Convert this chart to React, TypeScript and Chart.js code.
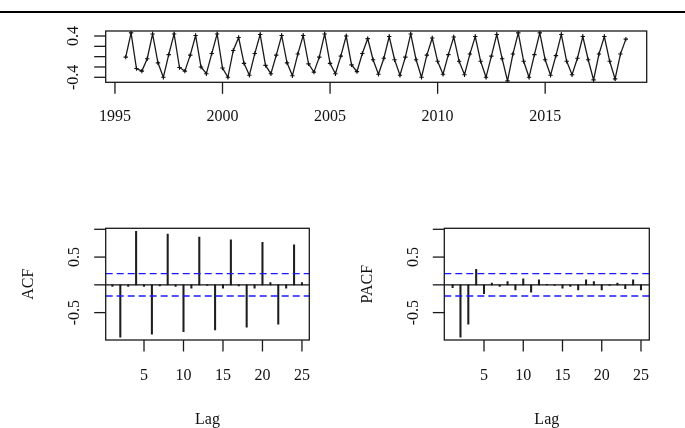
import React, { useEffect, useRef } from "react";
import { Chart, registerables } from "chart.js";

Chart.register(...registerables);

// ---------- data ----------
const seriesStart = 1995.5; // first observation (quarterly)
const seriesFrequency = 4;
const seriesValues = [
  -0.01, 0.46,
  -0.23, -0.28, -0.04, 0.44,
  -0.12, -0.40, 0.04, 0.44,
  -0.21, -0.28, 0.03, 0.41,
  -0.20, -0.33, 0.06, 0.44,
  -0.22, -0.40, 0.12, 0.37,
  -0.13, -0.36, 0.06, 0.43,
  -0.17, -0.33, 0.03, 0.41,
  -0.12, -0.37, 0.05, 0.41,
  -0.14, -0.30, -0.01, 0.44,
  -0.13, -0.33, 0.01, 0.40,
  -0.16, -0.29, 0.06, 0.35,
  -0.06, -0.34, -0.03, 0.39,
  -0.06, -0.36, -0.01, 0.44,
  -0.06, -0.40, 0.03, 0.36,
  -0.09, -0.34, 0.04, 0.38,
  -0.09, -0.35, 0.05, 0.39,
  -0.09, -0.40, 0.01, 0.43,
  -0.04, -0.47, 0.05, 0.46,
  -0.09, -0.40, 0.04, 0.46,
  -0.06, -0.36, 0.02, 0.43,
  -0.09, -0.35, -0.03, 0.39,
  -0.06, -0.45, 0.05, 0.39,
  -0.09, -0.43, 0.05, 0.34,
];
const topXTicks = [1995, 2000, 2005, 2010, 2015];
const topXLabels = ["1995", "2000", "2005", "2010", "2015"];
const topYTicks = [-0.4, -0.2, 0, 0.2, 0.4];
const topYLabels = ["-0.4", "", "", "", "0.4"];

const lags = [1, 2, 3, 4, 5, 6, 7, 8, 9, 10, 11, 12, 13, 14, 15, 16, 17, 18, 19, 20, 21, 22, 23, 24, 25];
const acfValues = [
  -0.03, -0.944, -0.03, 0.962, -0.03, -0.89, -0.02, 0.915, -0.03, -0.843,
  -0.06, 0.861, -0.01, -0.812, -0.06, 0.812, -0.02, -0.764, -0.06, 0.764,
  0.04, -0.71, -0.06, 0.722, 0.04,
];
const pacfValues = [
  -0.05, -0.944, -0.71, 0.28, -0.16, 0.03, -0.03, 0.06, -0.09, 0.11,
  -0.13, 0.09, 0.01, -0.01, -0.06, -0.03, -0.09, 0.09, 0.06, -0.09,
  -0.01, 0.03, -0.07, 0.09, -0.09,
];
const confLimit = 0.202;
const lagTicks = [5, 10, 15, 20, 25];
const lagLabels = ["5", "10", "15", "20", "25"];
const corrYTicks = [-0.5, 0, 0.5, 1];
const corrYLabels = ["-0.5", "", "0.5", ""];

// ---------- drawing helpers ----------
const FONT = "16px 'Liberation Serif', 'Times New Roman', serif";

type FrameCfg = {
  xTicks: number[];
  xLabels: string[];
  yTicks: number[];
  yLabels: string[];
  xLabelOffset: number;
  yLabelOffset: number;
  xTitle?: string;
  yTitle?: string;
};

function framePlugin(cfg: FrameCfg) {
  return {
    id: "rFrame",
    afterDraw(chart: any) {
      const { ctx, chartArea: a, scales } = chart;
      const xs = scales.x;
      const ys = scales.y;
      ctx.save();
      ctx.strokeStyle = "#1a1a1a";
      ctx.lineWidth = 1.3;
      ctx.strokeRect(a.left, a.top, a.right - a.left, a.bottom - a.top);
      ctx.fillStyle = "#111";
      ctx.font = FONT;
      ctx.textAlign = "center";
      ctx.textBaseline = "middle";
      cfg.xTicks.forEach((v, i) => {
        const px = xs.getPixelForValue(v);
        ctx.beginPath();
        ctx.moveTo(px, a.bottom);
        ctx.lineTo(px, a.bottom + 11.5);
        ctx.stroke();
        ctx.fillText(cfg.xLabels[i], px, a.bottom + cfg.xLabelOffset);
      });
      cfg.yTicks.forEach((v, i) => {
        const py = ys.getPixelForValue(v);
        ctx.beginPath();
        ctx.moveTo(a.left - 11.5, py);
        ctx.lineTo(a.left, py);
        ctx.stroke();
        const lab = cfg.yLabels[i];
        if (lab) {
          ctx.save();
          ctx.translate(a.left - cfg.yLabelOffset, py);
          ctx.rotate(-Math.PI / 2);
          ctx.fillText(lab, 0, 0);
          ctx.restore();
        }
      });
      if (cfg.xTitle) {
        ctx.fillText(cfg.xTitle, (a.left + a.right) / 2, a.bottom + 79.3);
      }
      if (cfg.yTitle) {
        ctx.save();
        ctx.translate(a.left - 77, (a.top + a.bottom) / 2);
        ctx.rotate(-Math.PI / 2);
        ctx.fillText(cfg.yTitle, 0, 0);
        ctx.restore();
      }
      ctx.restore();
    },
  };
}

const W = 685;
const H = 428;

function topChart(canvas: HTMLCanvasElement) {
  const xMin = 1994.57;
  const xMax = 2019.72;
  const points = seriesValues.map((v, i) => ({ x: seriesStart + i / seriesFrequency, y: v }));
  return new Chart(canvas, {
    type: "line",
    data: {
      datasets: [
        {
          data: points,
          borderColor: "#1a1a1a",
          borderWidth: 1.3,
          tension: 0,
          pointStyle: "cross",
          pointRadius: 2.2,
          pointBorderWidth: 1.1,
          pointBorderColor: "#111",
          pointBackgroundColor: "#111",
        },
      ],
    },
    options: {
      animation: false,
      responsive: false,
      events: [],
      layout: { padding: { left: 105.7, top: 31, right: W - 646.7, bottom: H - 82.3 } },
      plugins: { legend: { display: false }, tooltip: { enabled: false } },
      scales: {
        x: { type: "linear", display: false, min: xMin, max: xMax, bounds: "data" },
        y: { type: "linear", display: false, min: -0.497, max: 0.497, bounds: "data" },
      },
    },
    plugins: [
      framePlugin({
        xTicks: topXTicks,
        xLabels: topXLabels,
        yTicks: topYTicks,
        yLabels: topYLabels,
        xLabelOffset: 34.4,
        yLabelOffset: 32,
      }),
    ],
  } as any);
}

function corrChart(
  canvas: HTMLCanvasElement,
  values: number[],
  title: string,
  box: { left: number; right: number },
  xMin: number,
  xMax: number
) {
  const top = 228.3;
  const bottom = 340;
  return new Chart(canvas, {
    type: "bar",
    data: {
      datasets: [
        {
          type: "bar",
          data: lags.map((l, i) => ({ x: l, y: values[i] })),
          backgroundColor: "#1e1e1e",
          borderWidth: 0,
          barThickness: 1.4,
          order: 2,
        },
        {
          type: "line",
          data: [
            { x: xMin, y: 0 },
            { x: xMax, y: 0 },
          ],
          borderColor: "#111",
          borderWidth: 1.3,
          pointRadius: 0,
          order: 1,
        },
        {
          type: "line",
          data: [
            { x: xMin, y: confLimit },
            { x: xMax, y: confLimit },
          ],
          borderColor: "#1a1aff",
          borderWidth: 1.4,
          borderDash: [7, 4],
          pointRadius: 0,
          order: 0,
        },
        {
          type: "line",
          data: [
            { x: xMin, y: -confLimit },
            { x: xMax, y: -confLimit },
          ],
          borderColor: "#1a1aff",
          borderWidth: 1.4,
          borderDash: [7, 4],
          pointRadius: 0,
          order: 0,
        },
      ],
    },
    options: {
      animation: false,
      responsive: false,
      events: [],
      layout: { padding: { left: box.left, top, right: W - box.right, bottom: H - bottom } },
      plugins: { legend: { display: false }, tooltip: { enabled: false } },
      scales: {
        x: { type: "linear", display: false, min: xMin, max: xMax, offset: false, bounds: "data", grid: { offset: false } },
        y: { type: "linear", display: false, min: -0.993, max: 1.018, bounds: "data" },
      },
    },
    plugins: [
      framePlugin({
        xTicks: lagTicks,
        xLabels: lagLabels,
        yTicks: corrYTicks,
        yLabels: corrYLabels,
        xLabelOffset: 35.8,
        yLabelOffset: 31,
        xTitle: "Lag",
        yTitle: title,
      }),
    ],
  } as any);
}

export default function App() {
  const r1 = useRef<HTMLCanvasElement>(null);
  const r2 = useRef<HTMLCanvasElement>(null);
  const r3 = useRef<HTMLCanvasElement>(null);

  useEffect(() => {
    const charts: Chart[] = [];
    if (r1.current) charts.push(topChart(r1.current));
    if (r2.current) charts.push(corrChart(r2.current, acfValues, "ACF", { left: 105.7, right: 309.3 }, 0.15, 25.93));
    if (r3.current) charts.push(corrChart(r3.current, pacfValues, "PACF", { left: 444.3, right: 649.3 }, -0.06, 26.06));
    return () => charts.forEach((c) => c.destroy());
  }, []);

  const cstyle: React.CSSProperties = { position: "absolute", left: 0, top: 0, width: W, height: H };
  return (
    <div style={{ position: "absolute", left: 0, top: 0, width: W, height: H, background: "#fff" }}>
      <div style={{ position: "absolute", left: 0, top: 11, width: W, height: 2, background: "#000" }} />
      <canvas ref={r1} width={W} height={H} style={cstyle} />
      <canvas ref={r2} width={W} height={H} style={cstyle} />
      <canvas ref={r3} width={W} height={H} style={cstyle} />
    </div>
  );
}
